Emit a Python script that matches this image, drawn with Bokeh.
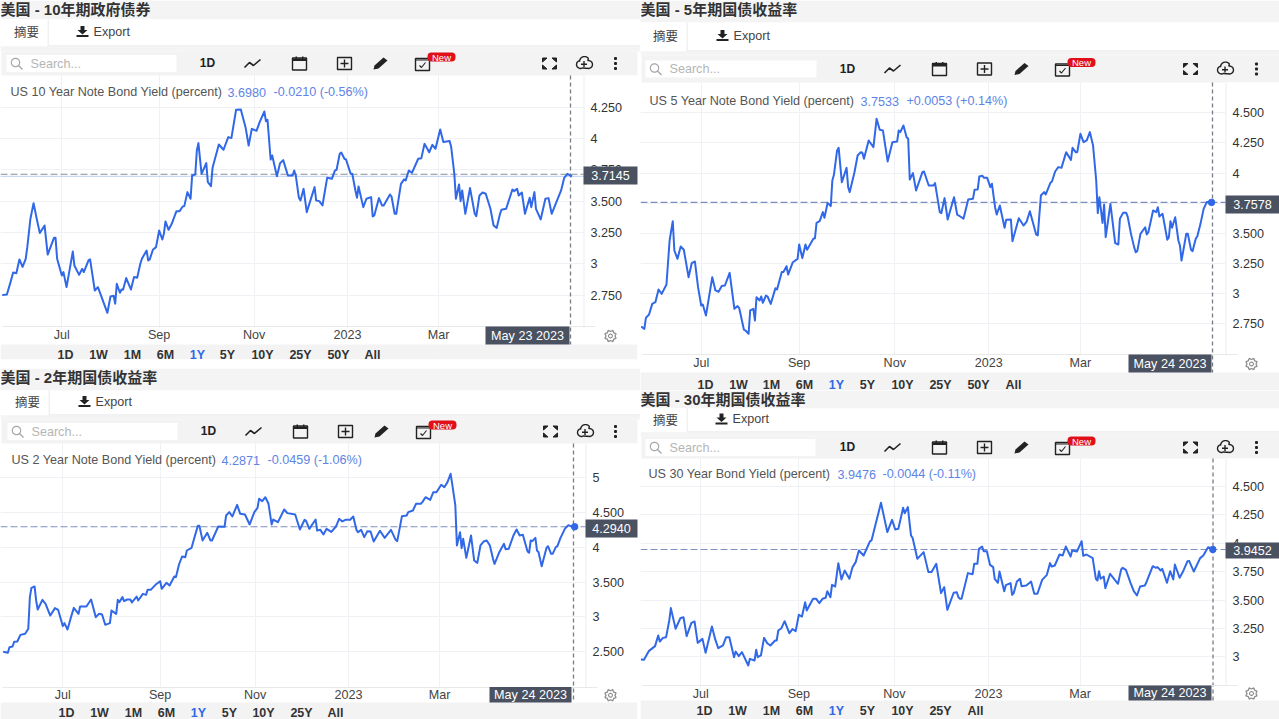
import numpy as np
from bokeh.embed import file_html
from bokeh.resources import INLINE
from bokeh.plotting import figure
from bokeh.models import (BoxAnnotation, Label, PolyAnnotation, LinearAxis, Grid, FixedTicker,
                          Range1d, Row, Column)

# ---- data: day offset from 2022-05-24 and yield ----
days_10y = [0,3,5,7,9,11,13,15,16,18,20,22,24,27,29,33,34,35,38,39,41,45,46,49,51,52,55,56,59,61,67,69,71,72,73,75,76,77,79,82,84,86,88,89,92,93,94,96,98,100,102,103,104,106,108,111,113,115,116,118,120,121,123,124,125,127,130,131,133,134,138,141,144,146,149,152,155,157,159,162,164,167,168,169,171,172,175,177,179,182,185,186,187,189,190,192,194,199,200,202,204,207,210,212,213,215,216,218,219,222,223,225,226,227,230,232,235,236,237,240,242,243,247,248,250,251,254,256,257,259,261,265,267,269,272,274,276,279,281,285,286,288,289,291,292,293,295,298,301,302,304,306,308,311,313,315,317,318,321,325,326,328,329,331,333,336,337,339,340,343,346,348,350,356,358,360,363]
yield_10y = [2.75,2.755,2.84,2.93,2.925,3.035,2.975,3.04,3.133,3.36,3.484,3.36,3.245,3.306,3.074,3.207,3.207,3.04,2.907,2.934,2.814,3.098,2.987,2.912,2.96,2.934,3.027,3.035,2.787,2.814,2.609,2.739,2.745,2.681,2.84,2.769,2.795,2.793,2.886,2.795,2.894,2.888,3.0,3.04,3.106,3.027,3.035,3.112,3.133,3.266,3.194,3.239,3.338,3.271,3.319,3.42,3.42,3.457,3.46,3.572,3.519,3.705,3.713,3.904,3.963,3.718,3.803,3.652,3.62,3.766,3.952,3.91,4.011,4.003,4.229,4.231,4.09,3.944,4.077,4.061,4.13,4.215,4.138,4.149,3.832,3.864,3.699,3.803,3.827,3.705,3.705,3.745,3.705,3.527,3.505,3.598,3.412,3.612,3.505,3.5,3.465,3.686,3.678,3.745,3.75,3.878,3.888,3.838,3.832,3.718,3.718,3.585,3.527,3.617,3.452,3.519,3.532,3.378,3.386,3.524,3.465,3.465,3.553,3.537,3.399,3.399,3.638,3.673,3.665,3.745,3.726,3.838,3.843,3.957,3.89,3.949,3.918,4.072,3.971,3.979,3.931,3.718,3.519,3.633,3.5,3.585,3.399,3.604,3.399,3.38,3.545,3.569,3.559,3.439,3.306,3.287,3.394,3.431,3.439,3.593,3.58,3.598,3.545,3.569,3.399,3.527,3.452,3.572,3.439,3.354,3.519,3.524,3.399,3.585,3.686,3.718,3.698]

days_5y = [0,2,3,5,7,9,11,13,16,18,20,21,23,25,27,30,32,34,36,38,39,41,45,47,49,51,53,56,59,61,62,65,66,68,69,71,72,73,75,76,77,79,80,82,85,86,89,90,92,93,96,99,100,102,104,105,109,110,111,113,115,116,118,120,121,122,124,125,127,130,131,132,135,137,139,140,141,144,147,149,151,153,156,159,162,163,164,166,168,169,170,172,174,178,179,182,185,186,189,190,192,194,198,200,202,204,207,210,211,213,214,216,217,219,221,222,224,225,227,230,231,234,235,239,242,244,246,250,251,253,255,256,259,260,262,264,266,269,272,273,275,276,278,280,282,284,286,288,289,290,292,293,294,297,300,302,303,305,307,308,310,312,313,314,316,319,320,321,324,326,327,328,330,333,334,335,336,338,340,341,342,345,346,348,349,351,352,354,356,358,361]
yield_5y = [2.729,2.71,2.801,2.829,2.917,2.931,3.036,3.0,3.077,3.442,3.602,3.359,3.29,3.392,3.365,3.138,3.254,3.268,3.055,2.903,2.912,2.82,3.138,3.028,3.017,3.064,3.069,3.174,2.876,2.898,2.884,2.704,2.696,2.669,2.862,2.876,2.779,2.972,2.945,2.978,2.925,2.986,2.978,2.917,3.047,3.036,3.18,3.18,3.229,3.16,3.262,3.29,3.409,3.296,3.409,3.365,3.456,3.461,3.588,3.602,3.677,3.63,3.754,3.727,3.939,3.986,4.188,4.21,3.925,4.044,3.884,3.843,4.008,4.146,4.174,4.169,4.119,4.271,4.215,4.45,4.359,4.354,4.097,4.257,4.262,4.354,4.34,4.395,4.298,4.285,3.948,4.0,3.856,4.008,4.014,3.898,3.898,3.917,3.677,3.669,3.793,3.616,3.801,3.657,3.641,3.622,3.782,3.787,3.862,3.865,3.972,3.978,3.961,3.961,3.884,3.912,3.718,3.657,3.732,3.547,3.613,3.616,3.436,3.627,3.566,3.599,3.685,3.492,3.483,3.815,3.843,3.823,3.92,3.931,4.014,4.05,4.044,4.174,4.11,4.21,4.174,4.174,4.326,4.257,4.271,4.34,4.229,3.939,3.669,3.801,3.588,3.74,3.47,3.746,3.42,3.409,3.622,3.671,3.671,3.635,3.497,3.387,3.345,3.354,3.497,3.552,3.492,3.511,3.691,3.677,3.718,3.641,3.663,3.448,3.47,3.602,3.547,3.635,3.442,3.401,3.276,3.497,3.497,3.365,3.354,3.456,3.478,3.58,3.704,3.76,3.757]

days_2y = [0,3,4,6,7,9,11,14,16,17,18,20,21,22,25,27,30,33,35,38,39,41,43,45,48,49,53,56,59,61,63,65,68,69,72,73,74,76,77,79,81,82,85,86,89,91,92,94,97,100,101,104,106,109,110,112,114,116,117,120,122,124,125,127,130,132,133,137,141,142,144,146,149,151,154,157,160,162,163,165,167,169,171,172,175,179,181,186,189,192,193,195,199,200,202,204,206,209,212,214,216,218,221,223,225,226,228,230,232,234,236,240,243,247,250,251,254,257,258,261,263,266,267,269,272,274,276,279,281,283,285,286,288,289,291,292,293,295,298,300,302,304,306,308,310,312,313,316,319,320,322,325,327,329,331,334,335,336,337,339,340,341,343,346,347,349,350,352,353,355,358,360,364]
yield_2y = [2.497,2.483,2.564,2.574,2.641,2.646,2.741,2.756,2.828,3.283,3.417,3.436,3.235,3.105,3.244,3.187,3.019,3.125,3.101,2.866,2.909,2.818,2.981,3.129,3.043,3.148,3.148,3.249,2.995,3.043,3.034,2.885,2.909,3.091,3.043,3.244,3.211,3.283,3.225,3.249,3.249,3.206,3.292,3.235,3.33,3.316,3.388,3.388,3.46,3.512,3.402,3.489,3.45,3.58,3.57,3.752,3.867,3.857,3.953,3.991,4.154,4.307,4.307,4.097,4.207,4.097,4.097,4.298,4.293,4.456,4.504,4.442,4.609,4.48,4.47,4.327,4.504,4.566,4.695,4.662,4.719,4.624,4.327,4.398,4.36,4.542,4.49,4.47,4.255,4.394,4.375,4.264,4.398,4.24,4.25,4.183,4.264,4.221,4.298,4.408,4.37,4.394,4.394,4.442,4.25,4.216,4.25,4.145,4.231,4.226,4.082,4.236,4.135,4.25,4.106,4.087,4.446,4.456,4.504,4.528,4.624,4.624,4.648,4.719,4.681,4.791,4.791,4.897,4.863,4.935,5.055,4.911,4.6,4.025,4.216,3.987,4.121,3.848,4.169,3.809,3.776,4.025,4.082,4.097,4.025,3.833,3.761,3.929,4.049,3.972,3.977,4.169,4.255,4.169,4.178,3.939,3.92,4.097,4.087,4.135,3.953,3.929,3.728,3.987,4.015,3.905,3.905,4.001,4.015,4.135,4.274,4.317,4.279]

days_30y = [0,2,5,9,11,12,14,16,18,19,22,25,27,29,32,34,36,39,41,45,47,49,52,54,56,59,60,62,64,68,69,72,73,74,76,78,80,82,85,86,87,89,91,94,96,98,100,102,104,105,109,111,113,115,117,118,120,121,123,125,127,129,132,134,136,138,141,145,146,152,156,159,161,163,166,167,169,171,172,175,179,182,184,187,190,192,194,198,200,201,202,203,207,210,211,213,214,216,217,219,221,223,224,226,227,230,231,234,235,236,238,240,241,244,247,249,251,254,257,259,260,262,265,267,269,272,273,276,279,280,282,286,288,289,290,291,293,294,297,302,304,305,307,310,312,314,316,319,320,324,326,327,329,330,333,335,337,338,341,343,346,347,350,354,356,359,362]
yield_30y = [2.977,2.974,3.05,3.094,3.188,3.135,3.167,3.173,3.32,3.429,3.247,3.34,3.349,3.182,3.299,3.311,3.123,3.158,3.035,3.267,3.158,3.076,3.1,3.173,3.173,2.997,3.047,3.006,3.041,2.924,2.982,2.968,3.062,2.997,3.012,3.167,3.12,3.1,3.144,3.144,3.232,3.252,3.314,3.208,3.244,3.226,3.37,3.355,3.481,3.408,3.511,3.511,3.473,3.511,3.52,3.578,3.525,3.634,3.619,3.825,3.681,3.76,3.687,3.79,3.834,3.936,3.892,4.016,4.025,4.356,4.098,4.206,4.121,4.127,4.312,4.265,4.318,4.068,4.048,3.863,3.922,3.746,3.746,3.819,3.561,3.613,3.414,3.564,3.569,3.525,3.511,3.511,3.737,3.728,3.819,3.819,3.951,3.971,3.93,3.93,3.81,3.79,3.687,3.652,3.751,3.578,3.631,3.649,3.546,3.561,3.663,3.687,3.622,3.628,3.663,3.555,3.555,3.678,3.722,3.825,3.795,3.804,3.901,3.892,3.971,3.883,3.936,3.927,4.018,3.889,3.901,3.869,3.687,3.672,3.754,3.687,3.707,3.605,3.731,3.643,3.769,3.784,3.766,3.649,3.578,3.54,3.619,3.628,3.657,3.798,3.784,3.79,3.76,3.775,3.652,3.754,3.681,3.813,3.696,3.746,3.842,3.845,3.751,3.869,3.892,3.965,3.948]

month_ticks = [38, 100, 160.5, 220, 278]
month_labels = ["Jul", "Sep", "Nov", "2023", "Mar"]
ticks_10y = [2.75, 3, 3.25, 3.5, 3.75, 4, 4.25]
ticks_5y = [2.75, 3, 3.25, 3.5, 3.75, 4, 4.25, 4.5]
ticks_2y = [2.5, 3, 3.5, 4, 4.5, 5]
ticks_30y = [3, 3.25, 3.5, 3.75, 4, 4.25, 4.5]
range_names = ["1D", "1W", "1M", "6M", "1Y", "5Y", "10Y", "25Y", "50Y", "All"]
range_names_short = ["1D", "1W", "1M", "6M", "1Y", "5Y", "10Y", "25Y", "All"]

SANS = "Liberation Sans"
CJK = "Noto Sans CJK SC"
TITLE_FONT = "'Liberation Sans', 'Noto Sans CJK SC'"
BLUE = "#3068e8"
LEG = "#5d84e6"
DARK = "#4a5160"
PAGE = "#f4f4f4"
BAR = "#f3f3f3"
GRID = "#eff1f4"
FS = 12.6


def fmt(v):
    return str(int(v)) if float(v).is_integer() else f"{v:.3f}"


def panel(c, days, vals, ticks):
    ox, oy, W, H = c["box"]
    x0, kx, y3, ky = c["scale"]
    dx = lambda px: (px - x0) / kx          # page pixel -> day
    dy = lambda py: 3 + (y3 - py) / ky      # page pixel -> yield
    p = figure(width=W, height=H, output_backend="svg", toolbar_location=None,
               x_axis_location=None, y_axis_location=None, min_border=0,
               x_range=Range1d(dx(ox), dx(ox + W)), y_range=Range1d(dy(oy + H), dy(oy)),
               background_fill_color="#ffffff", border_fill_color="#ffffff", outline_line_color=None)
    p.grid.visible = False

    def T(x, y, text, size=FS, color="#333333", align="left", style="normal", font=SANS):
        p.add_layout(Label(x=x - ox, y=H - (y - 1 - oy), x_units="screen", y_units="screen", text=text,
                           text_font_size=f"{size}px", text_color=color, text_align=align,
                           text_baseline="middle", text_font_style=style, text_font=font))

    def B(x0_, y0_, x1_, y1_, color, level="annotation", radius=0):
        p.add_layout(BoxAnnotation(left=x0_ - ox, right=x1_ - ox, top=H - (y0_ - oy), bottom=H - (y1_ - oy),
                                   left_units="screen", right_units="screen", top_units="screen",
                                   bottom_units="screen", fill_color=color, fill_alpha=1, line_color=None,
                                   level=level, border_radius=radius))

    def P(pts, fill=None, line="#222222", width=1.4, closed=True):
        pts = list(pts)
        if not closed:
            pts = pts + pts[::-1]
        p.add_layout(PolyAnnotation(xs=[a - ox for a, b in pts], ys=[H - (b - oy) for a, b in pts],
                                    xs_units="screen", ys_units="screen",
                                    fill_color=fill, fill_alpha=1 if fill else 0,
                                    line_color=line, line_width=width, line_alpha=1 if line else 0))

    def rect(cx, cy, w, h):
        return [(cx - w / 2, cy - h / 2), (cx + w / 2, cy - h / 2), (cx + w / 2, cy + h / 2), (cx - w / 2, cy + h / 2)]

    def circle(cx, cy, r, n=18):
        return [(cx + r * np.cos(t), cy + r * np.sin(t)) for t in np.linspace(0, 2 * np.pi, n, endpoint=False)]

    # axes and grid
    xt = FixedTicker(ticks=month_ticks)
    yt = FixedTicker(ticks=ticks)
    xa = LinearAxis(ticker=xt, fixed_location=dy(c["axis_y"]), major_label_overrides=dict(zip(month_ticks, month_labels)),
                    axis_line_color="#e8e8e8", major_tick_line_color=None, minor_tick_line_color=None,
                    major_tick_out=0, major_tick_in=0, minor_tick_out=0, minor_tick_in=0,
                    major_label_text_font_size=f"{FS}px", major_label_text_font=SANS,
                    major_label_text_color="#444444", major_label_standoff=1,
                    bounds=(dx(ox + 2), dx(c["div_x"] + 12)))
    ya = LinearAxis(ticker=yt, fixed_location=dx(c["div_x"]), major_label_overrides={t: fmt(t) for t in ticks},
                    axis_line_color=None, major_tick_line_color=None, minor_tick_line_color=None,
                    major_tick_out=0, major_tick_in=0, minor_tick_out=0, minor_tick_in=0,
                    major_label_text_font_size=f"{FS}px", major_label_text_font=SANS,
                    major_label_text_color="#333333", major_label_standoff=7)
    p.add_layout(xa, "below")
    p.add_layout(ya, "right")
    p.add_layout(Grid(dimension=0, ticker=xt, axis=xa, grid_line_color=GRID, level="image"))
    p.add_layout(Grid(dimension=1, ticker=yt, axis=ya, grid_line_color=GRID, level="image"))

    t0, t1 = c["tabs"]
    b0, b1 = c["bar"]
    ch1, ft1 = c["chart_bottom"], c["foot_bottom"]
    right = ox + W - c["rpad"]
    # covers that hide grid lines outside the plot
    B(ox, oy, ox + W, t0, PAGE, "underlay")
    B(ox, t0, ox + W, t1, "#ffffff", "underlay")
    B(ox, t1, ox + W, t1 + 1, "#e4e4e4", "underlay")
    B(ox + c["tab_r"], t0, ox + c["tab_r"] + 1, t1, "#e4e4e4", "underlay")
    B(ox, t0, ox + c["tab_r"], t1 + 1, "#ffffff", "underlay")
    B(ox, t1 + 1, ox + W, b0, PAGE, "underlay")
    B(ox + 1, b0, right, b1, BAR, "underlay")
    B(c["div_x"], b1, right, ch1, "#ffffff", "underlay")
    B(c["div_x"], b1, c["div_x"] + 1, ch1, "#eceef1", "underlay")
    B(ox + 1, c["axis_y"] + 1, right, ch1, "#ffffff", "underlay")
    B(ox, ch1, right, ft1, BAR, "underlay")
    B(right, b1, ox + W, ft1, "#ffffff" if c["white_r"] else PAGE, "underlay")
    if ft1 < oy + H:
        B(ox, ft1, ox + W, oy + H, c["under"], "underlay")

    # chart line, crosshair, last price
    p.segment([dx(c["cross_x"])], [dy(b1)], [dx(c["cross_x"])], [dy(ch1)], line_color="#777c85",
              line_dash="4 3", line_width=1.3)
    p.segment([dx(ox)], [c["price"]], [dx(c["div_x"])], [c["price"]], line_color=c["dash"], line_dash="7 3", line_width=1.1)
    if c.get("legend_line"):
        p.segment([dx(ox)], [c["last"]], [dx(c["div_x"])], [c["last"]], line_color="#7f9fe8", line_dash="1 1", line_width=1)
    p.line(days, vals, line_color=BLUE, line_width=2, line_join="round")
    if c["dot"]:
        p.scatter([days[-1]], [c["price"]], size=6.5, color=BLUE)

    # texts
    T(ox, c["title_y"], c["title"], 15, "#333333", style="bold", font=TITLE_FONT)
    T(c["tab_x"], (t0 + t1) / 2, "摘要", 12.5, "#444444", "center", font=CJK)
    ex = c["export_x"]
    ty = (t0 + t1) / 2 - .5
    P([(ex - 2, ty - 6), (ex + 2, ty - 6), (ex + 2, ty - 2), (ex + 5, ty - 2), (ex, ty + 2.5), (ex - 5, ty - 2), (ex - 2, ty - 2)], "#222222", None)
    B(ex - 6, ty + 3, ex + 6, ty + 5, "#222222")
    T(ex + 11, ty + .5, "Export", FS, "#444444")
    # tool bar
    y = (b0 + b1) / 2
    sx0, sx1 = c["search"]
    B(sx0, y - 8.5, sx1, y + 8.5, "#ffffff")
    P(circle(sx0 + 9, y - 1, 4.2), None, "#a8a8a8", 1.2)
    P([(sx0 + 12, y + 2), (sx0 + 16, y + 6)], None, "#a8a8a8", 1.4, closed=False)
    T(sx0 + 24, y + 1, "Search...", FS, "#b5b5b5")
    ic = c["icons"]
    T(ic[0], y + .5, "1D", 12, "#222222", "center", "bold")
    a = ic[1]
    P([(a - 8, y + 4), (a - 3, y - 1), (a + 1, y + 2), (a + 8, y - 4)], None, "#222222", 1.6, closed=False)
    a = ic[2]
    P(rect(a, y + .5, 14, 12), None)
    B(a - 7, y - 5, a + 7, y - 2.5, "#222222")
    B(a - 4, y - 7, a - 2.5, y - 4, "#222222")
    B(a + 2.5, y - 7, a + 4, y - 4, "#222222")
    a = ic[3]
    P(rect(a, y, 14, 12), None)
    B(a - 4, y - .7, a + 4, y + .7, "#222222")
    B(a - .7, y - 4, a + .7, y + 4, "#222222")
    a = ic[4]
    P([(a - 7, y + 6), (a - 6, y + 2), (a + 3, y - 6), (a + 7, y - 3), (a - 2, y + 5)], "#222222", None)
    a = ic[5]
    P(rect(a, y + 1, 14, 12), None)
    B(a - 7, y - 4, a + 7, y - 3, "#222222")
    P([(a - 3, y + 2), (a - 1, y + 4), (a + 3, y - 1)], None, "#222222", 1.1, closed=False)
    a = ic[6]
    B(a - 14, y - 11, a + 14, y - 2, "#e0101a", radius=4)
    T(a, y - 5.5, "New", 9.5, "#ffffff", "center")
    a = ic[7]
    for sx, sy in [(-1, -1), (1, -1), (-1, 1), (1, 1)]:
        P([(a + sx * 7, y + sy * 5.5), (a + sx * 2.5, y + sy * 5.5), (a + sx * 7, y + sy * 1.5)], "#222222", "#222222", 1)
    a = ic[8]
    P(circle(a - 3, y + 1, 4)[3:14] + circle(a + 1, y - 2, 5)[9:17] + circle(a + 5, y + 1, 4)[13:18] + circle(a + 5, y + 1, 4)[0:5], None, "#222222", 1.4)
    B(a - 2.5, y, a + 3.5, y + 1.4, "#222222")
    B(a - .2, y - 2.5, a + 1.2, y + 3.5, "#222222")
    a = ic[9]
    for dyy in (-5, 0, 5):
        B(a - 1.5, y + dyy - 1.5, a + 1.5, y + dyy + 1.5, "#222222", radius=1)

    # floating labels
    dl0, dl1 = c["date_box"]
    B(dl0, c["axis_y"], dl1, ch1, DARK)
    T((dl0 + dl1) / 2, (c["axis_y"] + ch1) / 2 + 1, c["date"], FS, "#ffffff", "center")
    py0, py1 = c["price_box"]
    B(c["div_x"], py0, right, py1, DARK)
    T((c["div_x"] + right) / 2, (py0 + py1) / 2 + 1, f"{c['price']:.4f}", FS, "#ffffff", "center")
    # gear
    g = c["gear"]
    gy = (c["axis_y"] + ch1) / 2 + .5
    gpts = circle(g, gy, 6, 16)
    P([(g + (px - g) * (1 if i % 2 else .75), gy + (py - gy) * (1 if i % 2 else .75)) for i, (px, py) in enumerate(gpts)], None, "#8d8d8d", 1.3)
    P(circle(g, gy, 2, 10), None, "#8d8d8d", 1.1)

    # legend
    lx, lb, lc = c["legend_x"]
    ly = c["legend_y"] + .7
    T(lx, ly, c["name"], FS, "#555555")
    T(lb, ly, f"{c['last']:.4f}", FS, LEG)
    T(lc, ly, c["chg"], FS, LEG)

    # range bar
    for nm, bx in zip(c["range_names"], c["range_x"]):
        T(bx, c["range_y"], nm, 12.5, BLUE if nm == "1Y" else "#333333", "center", "bold")
    return p


tl = panel(dict(box=(0, 0, 640, 368), scale=(1.67, 1.57, 263.3, 125.33), axis_y=326, div_x=583, tabs=(19, 45), tab_r=47, bar=(51, 75),
                chart_bottom=344, foot_bottom=359, rpad=3, white_r=True, under="#ffffff", cross_x=570, price=3.7145, last=3.698, legend_line=True,
                dash="#8a8f98", dot=False, title_y=9.7, title="美国 - 10年期政府债券", tab_x=26, export_x=82, search=(6, 176),
                icons=[207, 252, 299, 344, 380, 422, 441, 549, 583, 615], date_box=(485, 569), date="May 23 2023", price_box=(166, 184), gear=610,
                legend_x=(10, 227, 273), legend_y=92, name="US 10 Year Note Bond Yield (percent)", chg="-0.0210 (-0.56%)",
                range_names=range_names, range_x=[65, 98, 132, 165, 197, 227, 262, 300, 338, 372], range_y=355.5), days_10y, yield_10y, ticks_10y)

bl = panel(dict(box=(0, 368, 640, 351), scale=(2.67, 1.57, 616.33, 69.6), axis_y=686.5, div_x=585, tabs=(390, 414), tab_r=48, bar=(419, 443),
                chart_bottom=702, foot_bottom=719, rpad=3, white_r=True, under="#ffffff", cross_x=573, price=4.2940, last=4.2871, legend_line=False,
                dash="#7f90c0", dot=True, title_y=378, title="美国 - 2年期国债收益率", tab_x=27, export_x=84, search=(7, 177),
                icons=[208, 253, 300, 345, 381, 423, 442, 550, 584, 615], date_box=(489, 571), date="May 24 2023", price_box=(519, 537), gear=610,
                legend_x=(11, 221, 267), legend_y=460, name="US 2 Year Note Bond Yield (percent)", chg="-0.0459 (-1.06%)",
                range_names=range_names_short, range_x=[66, 99, 133, 166, 198, 229, 263, 301, 335], range_y=713.5), days_2y, yield_2y, ticks_2y)

tr = panel(dict(box=(640, 0, 639, 390), scale=(640.67, 1.58, 293.33, 120.67), axis_y=354, div_x=1225, tabs=(22, 50), tab_r=46, bar=(55, 82),
                chart_bottom=372, foot_bottom=390, rpad=0, white_r=False, under=BAR, cross_x=1212, price=3.7578, last=3.7533, legend_line=False,
                dash="#7f90c0", dot=True, title_y=10, title="美国 - 5年期国债收益率", tab_x=665, export_x=722, search=(645, 816),
                icons=[847, 892, 939, 984, 1021, 1062, 1081, 1190, 1224, 1256], date_box=(1128, 1211), date="May 24 2023", price_box=(195, 213), gear=1251,
                legend_x=(649, 860, 906), legend_y=101, name="US 5 Year Note Bond Yield (percent)", chg="+0.0053 (+0.14%)",
                range_names=range_names, range_x=[705, 738, 771, 804, 836, 867, 902, 940, 978, 1013], range_y=385), days_5y, yield_5y, ticks_5y)

br = panel(dict(box=(640, 390, 639, 329), scale=(640.33, 1.58, 656.33, 113.57), axis_y=685, div_x=1225, tabs=(408, 431), tab_r=46, bar=(436, 458),
                chart_bottom=700, foot_bottom=719, rpad=0, white_r=False, under=BAR, cross_x=1212.5, price=3.9452, last=3.9476, legend_line=False,
                dash="#7f90c0", dot=True, title_y=399.7, title="美国 - 30年期国债收益率", tab_x=665, export_x=721, search=(645, 815),
                icons=[847, 892, 939, 984, 1021, 1062, 1081, 1190, 1224, 1256], date_box=(1128, 1211), date="May 24 2023", price_box=(542, 558), gear=1251,
                legend_x=(648, 837, 882), legend_y=474, name="US 30 Year Bond Yield (percent)", chg="-0.0044 (-0.11%)",
                range_names=range_names_short, range_x=[704, 737, 771, 804, 836, 867, 902, 940, 975], range_y=711), days_30y, yield_30y, ticks_30y)

root = Row(children=[Column(children=[tl, bl], spacing=0), Column(children=[tr, br], spacing=0)], spacing=0,
           styles={"position": "absolute", "left": "0px", "top": "0px"})
open("out.html", "w").write(file_html(root, INLINE))
